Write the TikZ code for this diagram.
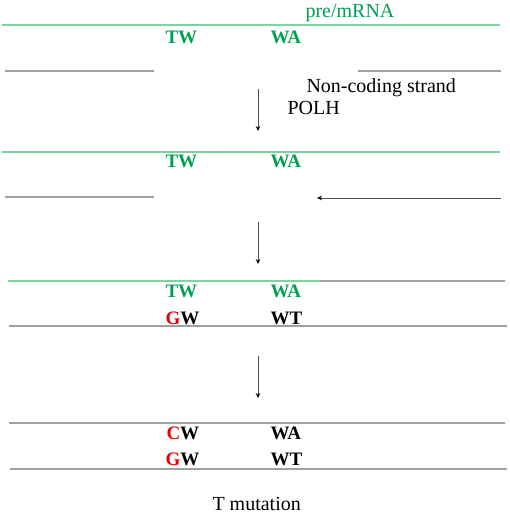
\documentclass[tikz,border=0pt]{standalone}
\usepackage{fontspec}
\setmainfont{Liberation Serif}
\usetikzlibrary{arrows.meta}
\definecolor{rnaline}{RGB}{128,208,160}
\definecolor{rnatext}{RGB}{0,160,80}
\definecolor{dnaline}{RGB}{160,160,160}
\definecolor{mutred}{RGB}{230,0,0}
\tikzset{every picture/.style={line width=1pt}}

\begin{document}
\begin{tikzpicture}[x=1pt,y=-1pt,
    rna/.style={draw=rnaline, line width=1.2pt},
    dna/.style={draw=dnaline, line width=1.1pt},
    base/.style={anchor=base west, inner sep=0pt, font=\fontsize{19}{22}\selectfont\bfseries},
    lbl/.style={anchor=base west, inner sep=0pt, font=\fontsize{20}{24}\selectfont},
    flow/.style={draw=black!70, line width=0.9pt, -{Stealth[length=5pt,width=4.5pt,black]}}]
    \useasboundingbox (0,0) rectangle (510,515);
    % pre/mRNA and broken non-coding strand
    \draw[rna] (2,25) -- (500,25);
    \node[lbl, text=rnatext] (pre) at (305,17.5) {pre/mRNA};
    \node[base, text=rnatext] (tw1) at (165,43) {TW};
    \node[base, text=rnatext] (wa1) at (270,43) {WA};
    \draw[dna] (5,71) -- (154,71);
    \draw[dna] (358,71) -- (501,71);
    \node[lbl] (nc) at (306,92.3) {Non-coding strand};
    \node[lbl] (polh) at (287,114.3) {POLH};
    \coordinate (s1) at (258,89);
    \coordinate (e1) at (258,131);
    \draw[flow] (s1) -- (e1);
    % POLH fills the gap
    \draw[rna] (2,152) -- (500,152);
    \node[base, text=rnatext] (tw2) at (165,167.7) {TW};
    \node[base, text=rnatext] (wa2) at (270,167.7) {WA};
    \draw[dna] (5,197) -- (154,197);
    \coordinate (s2) at (501,198);
    \coordinate (e2) at (317,198);
    \draw[flow] (s2) -- (e2);
    \coordinate (s3) at (258,222);
    \coordinate (e3) at (258,264);
    \draw[flow] (s3) -- (e3);
    % hybrid strand
    \draw[rna] (8,281) -- (320,281);
    \draw[dna] (320,281) -- (505,281);
    \node[base, text=rnatext] (tw3) at (165,297.3) {TW};
    \node[base, text=rnatext] (wa3) at (270,297.3) {WA};
    \node[base] (gw3) at (165,324) {\textcolor{mutred}{G}W};
    \node[base] (wt3) at (270,324) {WT};
    \draw[dna] (9,326) -- (507,326);
    \coordinate (s4) at (258,356);
    \coordinate (e4) at (258,398);
    \draw[flow] (s4) -- (e4);
    % final duplex
    \draw[dna] (9,423) -- (505,423);
    \node[base] (cw4) at (166,439) {\textcolor{mutred}{C}W};
    \node[base] (wa4) at (270,439) {WA};
    \node[base] (gw4) at (165,465.7) {\textcolor{mutred}{G}W};
    \node[base] (wt4) at (270,465.7) {WT};
    \draw[dna] (10,469) -- (507,469);
    \node[lbl] (mut) at (212,510.5) {T mutation};
\end{tikzpicture}
\end{document}
